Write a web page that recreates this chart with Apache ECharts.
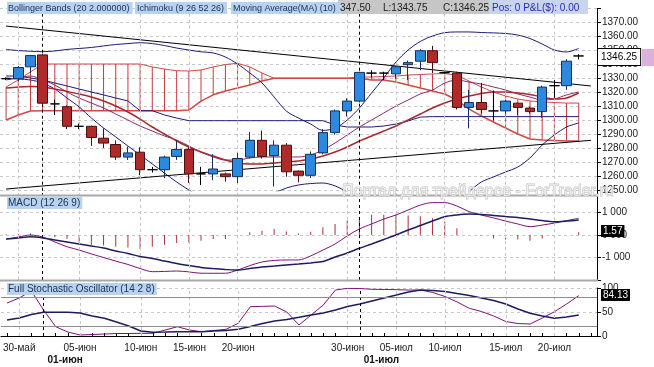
<!DOCTYPE html>
<html><head><meta charset="utf-8">
<script src="https://cdn.jsdelivr.net/npm/echarts@6/dist/echarts.min.js"></script>
<style>html,body{margin:0;padding:0;background:#fff;}#c{width:654px;height:367px;}</style>
</head><body><div id="c"></div>
<script>
const dates = ['29-май','30-май','31-май','01-июн','02-июн','03-июн','05-июн','06-июн','07-июн','08-июн','09-июн','10-июн','12-июн','13-июн','14-июн','15-июн','16-июн','17-июн','19-июн','20-июн','21-июн','22-июн','23-июн','24-июн','26-июн','27-июн','28-июн','29-июн','30-июн','01-июл','03-июл','04-июл','05-июл','06-июл','07-июл','08-июл','10-июл','11-июл','12-июл','13-июл','14-июл','15-июл','17-июл','18-июл','19-июл','20-июл','21-июл','22-июл','24-июл'];
const tickLabels = ['30-май','05-июн','10-июн','15-июн','20-июн','30-июн','05-июл','10-июл','15-июл','20-июл'];
const monthLabels = ['01-июн','01-июл'];

const open  = [1330,1330,1338.5,1347,1312,1310,1296,1296,1287.5,1283,1274,1277.5,1265,1265,1274.5,1279.5,1262,1262,1262,1260,1274,1286,1275,1282.5,1264,1261,1277,1291.5,1307,1314,1334,1334,1333.5,1340,1342.5,1350,1334.3,1334,1309.5,1313,1307,1307,1312.5,1309,1306.5,1325,1325,1346.25];
const high  = [1331,1339,1347,1348,1315,1311,1298,1296.5,1294.5,1286,1281.5,1281,1267,1275,1286,1281,1267,1276,1263,1277,1292,1293,1286,1284,1264.5,1278,1294,1308,1316,1335,1336,1335,1339,1343,1351,1353.5,1335,1335,1322,1327,1321.5,1315,1313,1310,1325,1329,1344,1347.5];
const low   = [1329,1328,1334,1311,1304,1294,1294,1282,1280.5,1272,1272,1261,1263,1259,1272,1255.5,1254,1257.5,1256.5,1255.5,1273,1273,1253,1260,1256,1259,1276,1290,1303,1313,1331,1329,1330,1329,1336,1334,1333.5,1308,1294.5,1305,1300.5,1305,1304,1305,1302,1316,1322,1343.75];
const close = [1330,1338,1346.5,1312.5,1312,1296,1296,1288,1284,1274,1277,1265,1265,1274,1279.5,1262,1262,1265.5,1260,1273,1286,1274.5,1282.5,1263.5,1261,1276,1291.5,1307,1314,1334.5,1334,1334,1338.5,1341.5,1350,1341.5,1334.3,1309.5,1313,1308,1307,1314,1309.5,1306.5,1324,1325,1342.5,1346.25];

const bbUpper = [1350.9,1350.1,1349.6,1349.3,1349.8,1350.9,1351.6,1352.3,1353.4,1354.4,1355.1,1355.7,1355.1,1353.7,1351.9,1350.5,1349.2,1348.4,1345.5,1340.5,1334.1,1327.0,1316.9,1306.9,1301.9,1297.6,1293.1,1294.6,1300.5,1309.1,1319.8,1330.5,1341.9,1350.5,1356.6,1360.5,1362.9,1363.4,1363.4,1363.0,1362.7,1362.3,1361.2,1358.7,1354.8,1350.5,1349.1,1351.6];
const bbLower = [1330.5,1329.8,1329.1,1326.9,1322.6,1316.2,1309.8,1301.9,1294.8,1288.4,1281.9,1275.5,1269.1,1262.6,1256.2,1250.5,1245.5,1243.4,1241.9,1243.4,1244.8,1246.2,1248.4,1251.9,1254.1,1255.1,1255.5,1253.4,1249.1,1243.4,1237.6,1232.6,1229.1,1227.6,1227.6,1229.1,1233.4,1239.8,1249.1,1256.2,1259.8,1263.4,1266.9,1273.4,1282.6,1289.8,1295.5,1298.4];
const senkouA = [1324.1,1329.1,1334.8,1340.5,1340.5,1340.5,1340.5,1340.5,1340.5,1340.5,1340.5,1340.5,1338.4,1336.9,1335.7,1335.5,1336.2,1338.4,1340.1,1341.0,1338.4,1334.1,1330.3,1330.3,1330.3,1330.3,1330.3,1330.3,1330.3,1331.2,1331.2,1331.6,1331.9,1332.6,1333.0,1333.4,1333.7,1332.6,1328.3,1324.1,1320.5,1317.6,1315.5,1314.1,1313.4,1313.0,1312.6,1312.6];
const senkouB = [1300.5,1304.1,1306.9,1307.1,1307.1,1307.1,1307.1,1307.1,1307.1,1307.1,1307.1,1307.1,1307.1,1307.1,1307.1,1307.6,1314.0,1318.5,1321.2,1323.4,1325.5,1328.4,1330.3,1330.3,1330.3,1330.3,1330.3,1330.3,1330.3,1330.3,1329.1,1329.1,1327.6,1325.5,1323.4,1321.2,1319.1,1314.8,1308.3,1303.4,1299.1,1294.8,1290.5,1286.9,1286.2,1285.9,1285.5,1285.5];
const ma10 = [1323.4,1324.1,1324.4,1324.1,1322.6,1320.9,1319.1,1316.9,1314.1,1310.5,1306.2,1301.2,1295.5,1290.5,1285.5,1281.2,1277.6,1274.8,1271.9,1269.8,1269.1,1269.1,1269.8,1270.5,1271.2,1272.6,1274.8,1277.6,1281.2,1285.5,1289.1,1292.6,1296.2,1300.5,1304.8,1309.1,1312.6,1315.5,1317.6,1319.4,1320.5,1320.5,1319.8,1318.7,1316.9,1315.5,1316.2,1319.8];
const tenkan = [1329.1,1330.5,1331.9,1329.1,1325.5,1320.5,1316.2,1312.6,1309.1,1304.8,1300.5,1296.2,1292.6,1289.1,1286.2,1281.9,1277.6,1274.1,1271.9,1271.9,1273.4,1274.1,1274.1,1274.1,1274.1,1275.5,1279.1,1284.1,1289.8,1295.5,1300.5,1305.5,1310.5,1314.8,1319.1,1321.9,1326.9,1329.1,1327.6,1326.2,1324.1,1321.9,1319.1,1316.9,1314.8,1315.5,1318.4,1320.5];
const kijun = [1331.9,1331.9,1330.5,1329.1,1326.9,1324.8,1322.6,1320.5,1318.4,1316.2,1314.1,1307.1,1307.1,1304.1,1301.9,1300,1300,1300,1300,1300,1300,1300,1300,1300,1300,1300,1300,1296.9,1295.5,1295.5,1295.5,1296.2,1297.6,1299.8,1302.6,1302.9,1302.9,1302.9,1302.9,1302.9,1302.9,1302.9,1302.9,1302.9,1302.9,1302.9,1302.9,1302.9];
const trendDown = [[0,1367.6],[48,1324.8]];
const trendUp = [[0,1251.2],[48,1286.0]];

const macd = [-0.18,-0.09,0,-0.09,-0.31,-0.52,-0.67,-0.84,-1.0,-1.16,-1.31,-1.49,-1.63,-1.62,-1.6,-1.64,-1.7,-1.7,-1.7,-1.56,-1.36,-1.2,-1.13,-1.11,-1.11,-0.93,-0.67,-0.4,-0.04,0.27,0.49,0.71,0.89,1.11,1.33,1.44,1.44,1.29,1.04,0.89,0.76,0.62,0.49,0.37,0.44,0.53,0.64,0.74];
const macdSignal = [-0.18,-0.13,-0.08,-0.13,-0.22,-0.31,-0.4,-0.49,-0.58,-0.71,-0.82,-0.96,-1.04,-1.16,-1.27,-1.36,-1.44,-1.49,-1.53,-1.56,-1.49,-1.42,-1.38,-1.33,-1.29,-1.24,-1.18,-0.98,-0.8,-0.59,-0.4,-0.2,0,0.22,0.42,0.62,0.81,0.89,0.93,0.91,0.87,0.82,0.78,0.71,0.64,0.59,0.62,0.67];
const macdHist = [0.03,0.03,0.07,0,-0.1,-0.17,-0.33,-0.43,-0.47,-0.52,-0.55,-0.62,-0.52,-0.43,-0.36,-0.33,-0.25,-0.18,-0.18,-0.03,0.12,0.19,0.27,0.16,0.07,0.15,0.34,0.49,0.64,0.78,0.9,0.9,0.9,0.87,0.83,0.74,0.6,0.3,0,-0.02,-0.15,-0.2,-0.2,-0.25,-0.15,-0.07,0,0.12];

const stochK = [68.7,79.2,93.7,54.2,19.3,8.3,2.1,3.1,4.1,5.2,5.2,5.6,5.6,12.5,19.3,12.5,8.9,11.5,13.9,26.5,61.1,61.8,62.5,50,23,43.8,64.6,95.8,99.3,98.9,97.3,96.9,96.5,95.8,95.8,90.6,82.3,70.9,57.7,51,41.7,30.2,26,25,37.5,50.6,66.6,84.13];
const stochD = [33.4,37.5,44.8,49.4,49.4,49.4,47.9,41.7,36.9,29.2,20.8,10.4,7.8,8.3,8.9,8.9,8.9,10.4,11.5,13.9,19.8,26,31.2,34.4,39,43.8,47.9,54.2,61.4,66.6,72.9,79.2,85.4,91.7,95.8,94.8,92.8,88.5,84.4,79.2,74,66.6,56.2,47.3,41.7,36.9,39.6,43.8];

const priceTicks = {min:1250, max:1380, step:10};
const macdTickText = {'1':'1 000','0':'0 000','-1':'-1 000'};
const stochTicks = {min:0, max:100, step:50};
const stochLevels = [80, 20];

const FONT = '"Liberation Sans", Arial, sans-serif';
const candleData = open.map((o,i)=>[o, close[i], low[i], high[i]]);
const hatchData = senkouA.map((a,i)=>[i, a, senkouB[i]]);

function vLines(){
  const d = tickLabels.map(t=>({xAxis:t}));
  monthLabels.forEach(t=>d.push({xAxis:t, lineStyle:{color:'#000', type:[3,3], width:1}}));
  return {silent:true, symbol:['none','none'], label:{show:false}, animation:false,
    lineStyle:{color:'#c4c4c4', type:[3,3], width:1}, data:d};
}
function catAxis(gi, show){
  return {type:'category', gridIndex:gi, data:dates, boundaryGap:true,
    axisLine:{show:show, lineStyle:{color:'#000'}},
    axisTick:{show:show, inside:true, length:3, alignWithLabel:true, interval:0, lineStyle:{color:'#000'}},
    axisLabel:{show:show, interval:(i,v)=>tickLabels.indexOf(v)>=0, fontSize:10, fontFamily:FONT, color:'#202020', margin:7},
    splitLine:{show:false}};
}
function emptySeries(xi, yi){
  return {type:'line', xAxisIndex:xi, yAxisIndex:yi, data:dates.map(()=>null), symbol:'none', z:1, markLine:vLines()};
}
function lineS(data, color, width, xi, yi, smooth, z){
  return {type:'line', data:data, xAxisIndex:xi, yAxisIndex:yi, symbol:'none', smooth:smooth,
    lineStyle:{color:color, width:width}, itemStyle:{color:color}, z:z||3, silent:true};
}

const chart = echarts.init(document.getElementById('c'), null, {renderer:'canvas'});
chart.setOption({
  animation:false,
  backgroundColor:'#fff',
  grid:[
    {left:0, right:57, top:8.7, height:182},
    {left:0, right:57, top:190, height:90},
    {left:0, right:57, top:288, height:48}
  ],
  xAxis:[
    catAxis(0,false), catAxis(1,false), catAxis(2,true),
    {type:'category', gridIndex:2, data:dates, position:'bottom', axisLine:{show:false}, axisTick:{show:false}, splitLine:{show:false},
      axisLabel:{interval:(i,v)=>monthLabels.indexOf(v)>=0, fontSize:10, fontWeight:'bold', fontFamily:FONT, color:'#111', margin:19, align:'left', padding:[0,0,0,4]}}
  ],
  yAxis:[
    {type:'value', gridIndex:0, position:'right', min:priceTicks.min, max:priceTicks.max, interval:priceTicks.step,
      axisLine:{show:true, lineStyle:{color:'#000'}}, axisTick:{show:true, length:4, lineStyle:{color:'#000'}},
      axisLabel:{fontSize:10, fontFamily:FONT, color:'#202020', margin:5, formatter:v=> v>=1380 ? '' : v.toFixed(2)},
      splitLine:{show:true, lineStyle:{color:'#c8c8c8', type:[3,3]}}},
    {type:'value', gridIndex:1, position:'right', min:-2, max:2, interval:1,
      axisLine:{show:true, lineStyle:{color:'#000'}}, axisTick:{show:true, length:4, lineStyle:{color:'#000'}},
      axisLabel:{fontSize:10, fontFamily:FONT, color:'#202020', margin:5, formatter:v=> macdTickText[String(v)] || ''},
      splitLine:{show:true, lineStyle:{color:'#c8c8c8', type:[3,3]}}},
    {type:'value', gridIndex:2, position:'right', min:stochTicks.min, max:stochTicks.max, interval:stochTicks.step,
      axisLine:{show:true, lineStyle:{color:'#000'}}, axisTick:{show:true, length:4, lineStyle:{color:'#000'}},
      axisLabel:{fontSize:10, fontFamily:FONT, color:'#202020', margin:5},
      splitLine:{show:true, lineStyle:{color:'#c8c8c8', type:[3,3]}}}
  ],
  series:[
    emptySeries(0,0), emptySeries(1,1), emptySeries(2,2),
    {type:'custom', xAxisIndex:0, yAxisIndex:0, data:hatchData, z:2, silent:true,
      renderItem:(params, api)=>{
        const a = api.coord([api.value(0), api.value(1)]);
        const b = api.coord([api.value(0), api.value(2)]);
        return {type:'line', shape:{x1:a[0], y1:a[1], x2:b[0], y2:b[1]}, style:{stroke:'#c83a3a', lineWidth:1}};
      }},
    lineS(senkouA, '#d04848', 1, 0, 0, false, 3),
    lineS(senkouB, '#d04848', 1.5, 0, 0, false, 3),
    lineS(bbUpper, '#1c1c78', 1, 0, 0, 0.3, 3),
    lineS(bbLower, '#1c1c78', 1, 0, 0, 0.3, 3),
    lineS(kijun, '#1c1c78', 1, 0, 0, false, 3),
    lineS(tenkan, '#8a2a6a', 1, 0, 0, 0.3, 3),
    lineS(ma10, '#a82a30', 1.5, 0, 0, 0.3, 3),
    lineS(trendDown, '#000', 1, 0, 0, false, 4),
    lineS(trendUp, '#000', 1, 0, 0, false, 4),
    {type:'candlestick', xAxisIndex:0, yAxisIndex:0, data:candleData, barWidth:10, z:5, silent:true,
      itemStyle:{color:'#2a8ae0', color0:'#b02a2a', borderColor:'#1a2c58', borderColor0:'#4a1010', borderColorDoji:'#000', borderWidth:1}},
    {type:'bar', xAxisIndex:1, yAxisIndex:1, data:macdHist, barWidth:1, itemStyle:{color:'#b03030'}, z:2, silent:true},
    lineS(macd, '#80107a', 1, 1, 1, 0.3, 3),
    lineS(macdSignal, '#1c1c60', 1.5, 1, 1, 0.3, 3),
    Object.assign(lineS(stochK, '#80107a', 1, 2, 2, false, 3), {markLine:{silent:true, symbol:['none','none'], label:{show:false},
      lineStyle:{color:'#8c8c8c', type:'solid', width:1}, data:stochLevels.map(v=>({yAxis:v}))}}),
    lineS(stochD, '#1c1c60', 1.5, 2, 2, false, 3)
  ],
  graphic:[
    {type:'rect', shape:{x:0, y:194.5, width:598, height:2}, style:{fill:'#a8a8a8'}, z:50},
    {type:'rect', shape:{x:0, y:279.5, width:598, height:2}, style:{fill:'#a8a8a8'}, z:50},
    {type:'text', x:7, y:2, z:60, style:{text:'Bollinger Bands (20 2.000000)', font:'9px '+FONT, fill:'#1a3560', backgroundColor:'#b9d2ee', padding:[2,3,1,1]}},
    {type:'text', x:135, y:2, z:60, style:{text:'Ichimoku (9 26 52 26)', font:'9px '+FONT, fill:'#1a3560', backgroundColor:'#b9d2ee', padding:[2,3,1,2]}},
    {type:'text', x:231, y:2, z:60, style:{text:'Moving Average(MA) (10)', font:'9px '+FONT, fill:'#1a3560', backgroundColor:'#b9d2ee', padding:[2,6,1,2]}},
    {type:'rect', shape:{x:338, y:0, width:151, height:14}, style:{fill:'#c6c6c6'}, z:59},
    {type:'text', x:340, y:3, z:60, style:{text:'347.50', font:'10px '+FONT, fill:'#202020'}},
    {type:'text', x:383, y:3, z:60, style:{text:'L:1343.75', font:'10px '+FONT, fill:'#202020'}},
    {type:'text', x:443, y:3, z:60, style:{text:'C:1346.25', font:'10px '+FONT, fill:'#202020'}},
    {type:'rect', shape:{x:489, y:0, width:99, height:14}, style:{fill:'#c9d4ee'}, z:59},
    {type:'text', x:492, y:3, z:60, style:{text:'Pos: 0 P&L($): 0.00', font:'10px '+FONT, fill:'#2a2ab8'}},
    {type:'text', x:7, y:197, z:60, style:{text:'MACD (12 26 9)', font:'10px '+FONT, fill:'#1a3560', backgroundColor:'#b9d2ee', padding:[1,2,1,1]}},
    {type:'text', x:7, y:283, z:60, style:{text:'Full Stochastic Oscillator (14 2 8)', font:'10px '+FONT, fill:'#1a3560', backgroundColor:'#b9d2ee', padding:[1,2,1,1]}},
    {type:'text', x:342, y:184, z:70, style:{text:'Портал для трейдеров - ForTrader.ru', font:'16px '+FONT, fill:'rgba(255,255,255,0.55)', stroke:'#c4c4c4', lineWidth:1}},
    {type:'rect', shape:{x:642, y:49, width:12, height:17}, style:{fill:'#dcb0dc'}, z:60},
    {type:'text', x:598, y:49, z:61, style:{text:'1346.25', font:'10px '+FONT, fill:'#000', backgroundColor:'#fff', borderColor:'#000', borderWidth:1, padding:[3,3,3,3]}},
    {type:'text', x:601, y:225, z:61, style:{text:'1.57', font:'10px '+FONT, fill:'#fff', backgroundColor:'#000', padding:[1,2,1,2]}},
    {type:'text', x:601, y:289, z:61, style:{text:'84.13', font:'10px '+FONT, fill:'#fff', backgroundColor:'#000', padding:[1,2,1,2]}}
  ]
});
</script></body></html>
